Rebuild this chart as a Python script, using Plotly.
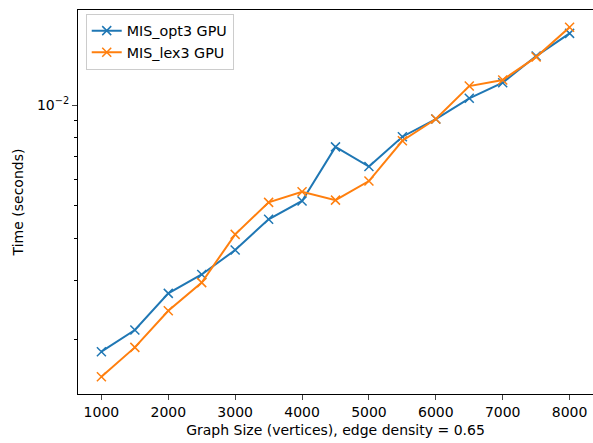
import plotly.graph_objects as go

sizes = [1000, 1500, 2000, 2500, 3000, 3500, 4000, 4500, 5000, 5500, 6000, 6500, 7000, 7500, 8000]
opt3_gpu = [1.835e-3, 2.13e-3, 2.74e-3, 3.12e-3, 3.69e-3, 4.56e-3, 5.17e-3, 7.5e-3, 6.55e-3,
            8.04e-3, 9.08e-3, 1.047e-2, 1.166e-2, 1.40e-2, 1.636e-2]
lex3_gpu = [1.545e-3, 1.89e-3, 2.43e-3, 2.95e-3, 4.11e-3, 5.12e-3, 5.51e-3, 5.2e-3, 5.93e-3,
            7.82e-3, 9.08e-3, 1.139e-2, 1.188e-2, 1.39e-2, 1.706e-2]
series_names = ["MIS_opt3 GPU", "MIS_lex3 GPU"]
x_ticks = [1000, 2000, 3000, 4000, 5000, 6000, 7000, 8000]
y_major = [1e-2]
y_major_text = ["10<sup>−2</sup>"]
y_minor = [2e-3, 3e-3, 4e-3, 5e-3, 6e-3, 7e-3, 8e-3, 9e-3]

colors = ["#1f77b4", "#ff7f0e"]
FONT = "DejaVu Sans"
FS = 14

fig = go.Figure()
for name, vals, c in zip(series_names, [opt3_gpu, lex3_gpu], colors):
    fig.add_trace(go.Scatter(
        x=sizes, y=vals, name=name, mode="lines+markers",
        line=dict(color=c, width=2),
        marker=dict(symbol="x-thin", size=9, line=dict(color=c, width=1.5), color=c),
    ))

fig.update_layout(
    width=593, height=443,
    margin=dict(l=78, r=0, t=10, b=49),
    plot_bgcolor="white", paper_bgcolor="white",
    font=dict(family=FONT, size=FS, color="black"),
    showlegend=True,
    legend=dict(
        x=0.015, y=0.99, xanchor="left", yanchor="top",
        bordercolor="#cccccc", borderwidth=1, bgcolor="rgba(255,255,255,0.8)",
        font=dict(family=FONT, size=14.3), tracegroupgap=0,
    ),
)
fig.update_xaxes(
    range=[650, 8350], tickvals=x_ticks, ticks="outside", ticklen=5, tickwidth=1,
    showline=True, linecolor="black", linewidth=1, mirror=True, showgrid=False, zeroline=False,
    title=dict(text="Graph Size (vertices), edge density = 0.65", standoff=6,
               font=dict(family=FONT, size=FS)),
)
fig.update_yaxes(
    type="log", range=[-2.8627, -1.7164],
    tickvals=y_major, ticktext=y_major_text, ticks="outside", ticklen=5, tickwidth=1,
    minor=dict(tickvals=y_minor, ticks="outside", ticklen=3, tickwidth=1, tickcolor="black", showgrid=False),
    showline=True, linecolor="black", linewidth=1, mirror=False, showgrid=False, zeroline=False,
    title=dict(text="Time (seconds)", standoff=10, font=dict(family=FONT, size=FS)),
)

fig.write_html("out.html")
